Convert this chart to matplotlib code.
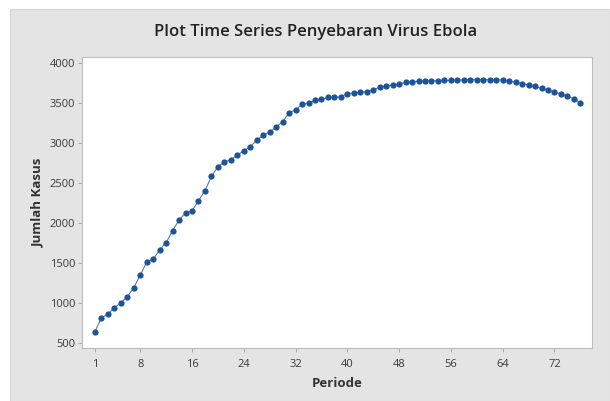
import numpy as np
import matplotlib.pyplot as plt
from matplotlib.patches import Rectangle

# data
periode = np.arange(1, 77)
kasus = [641, 815, 861, 940, 1002, 1077, 1193, 1347, 1513, 1546,
         1667, 1754, 1907, 2040, 2128, 2153, 2281, 2406, 2584, 2705,
         2767, 2792, 2854, 2904, 2958, 3035, 3103, 3141, 3203, 3269,
         3381, 3418, 3486, 3502, 3535, 3548, 3573, 3573, 3581, 3622,
         3626, 3635, 3647, 3660, 3705, 3714, 3726, 3735, 3767, 3763,
         3780, 3780, 3782, 3784, 3785, 3786, 3790, 3794, 3795, 3796,
         3796, 3795, 3795, 3793, 3780, 3763, 3747, 3726, 3710, 3685,
         3664, 3639, 3618, 3589, 3555, 3506]
xticks = [1, 8, 16, 24, 32, 40, 48, 56, 64, 72]
yticks = [500, 1000, 1500, 2000, 2500, 3000, 3500, 4000]

plt.rcParams['font.family'] = ['Open Sans', 'DejaVu Sans']

W, H = 610, 401
fig = plt.figure(figsize=(W / 100, H / 100), dpi=100, facecolor='white')

# grey panel behind the plot (Minitab style)
panel = Rectangle((10 / W, 0), 1 - 10 / W, 1 - 9 / H,
                  transform=fig.transFigure, facecolor='#e4e4e4',
                  edgecolor='#d6d6d6', lw=0.8, zorder=-10)
fig.add_artist(panel)

ax = fig.add_axes([82 / W, 1 - 348 / H, 510 / W, 291 / H])
ax.set_facecolor('white')

ax.plot(periode, kasus, color='#5a7aa0', lw=0.8, zorder=2)
ax.plot(periode, kasus, 'o', color='#1d5499', markersize=4.5,
        markeredgewidth=0, zorder=3)

ax.set_xlim(-1, 77.8)
ax.set_ylim(437, 4079)
ax.set_xticks(xticks)
ax.set_yticks(yticks)

for s in ax.spines.values():
    s.set_color('#bdbdbd')
    s.set_linewidth(0.8)
ax.tick_params(direction='out', length=3, width=0.6, color='#a0a0a0',
               labelsize=8, labelcolor='#3a3a3a', pad=2)
ax.tick_params(axis='x', pad=5)

fig.text(316 / W, 1 - 32 / H, 'Plot Time Series Penyebaran Virus Ebola',
         ha='center', va='center', fontsize=12, color='#222222',
         fontweight='semibold')
ax.set_xlabel('Periode', fontsize=9.5, fontweight='bold', color='#333333',
              labelpad=5)
ax.set_ylabel('Jumlah Kasus', fontsize=9.5, fontweight='bold', color='#333333',
              labelpad=4)

fig.savefig('out.png', dpi=100, facecolor=fig.get_facecolor())
